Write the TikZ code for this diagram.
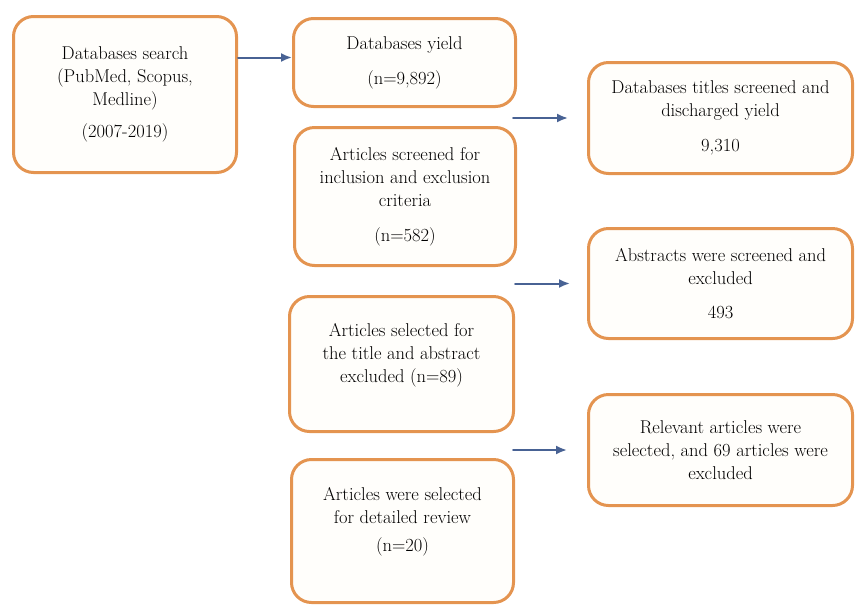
\documentclass[tikz,border=0pt]{standalone}
\usetikzlibrary{arrows.meta,calc}

\definecolor{boxline}{RGB}{228,148,80}
\definecolor{boxfill}{RGB}{255,254,251}
\definecolor{flowblue}{RGB}{72,98,148}

\begin{document}
\begin{tikzpicture}[x=1pt,y=-1pt,>={Latex[length=11pt,width=9pt]},line cap=round,line join=round]
  \tikzset{
    stage/.style={draw=boxline,fill=boxfill,line width=3pt,rounded corners=20pt,
      align=center,inner sep=0pt,font=\fontsize{18.5}{23}\selectfont},
    flow/.style={->,line width=2pt,flowblue}
  }
  \useasboundingbox (0,0) rectangle (856,606);

  % left column: the search itself
  \node[stage,minimum width=223,minimum height=156] (search) at (125,94.5)
    {Databases search\\(PubMed, Scopus,\\Medline)\\[9pt](2007-2019)};

  % middle column: what is kept at each step
  \node[stage,minimum width=222,minimum height=88] (yield) at (404.5,62.5)
    {Databases yield\\[12pt](n=9,892)};
  \node[stage,minimum width=221,minimum height=138] (screened) at (405,196.5)
    {Articles screened for\\inclusion and exclusion\\criteria\\[12pt](n=582)};
  \node[stage,minimum width=224,minimum height=135] (selected) at (401.5,364)
    {Articles selected for\\the title and abstract\\excluded (n=89)\\~};
  \node[stage,minimum width=222,minimum height=143] (review) at (402.5,531)
    {Articles were selected\\for detailed review\\[5pt](n=20)\\~};

  % right column: what is dropped at each step
  \node[stage,minimum width=264,minimum height=111] (titles) at (720.5,118)
    {Databases titles screened and\\discharged yield\\[12pt]9,310};
  \node[stage,minimum width=264,minimum height=110] (abstracts) at (720.5,283.5)
    {Abstracts were screened and\\excluded\\[11pt]493};
  \node[stage,minimum width=264,minimum height=111] (relevant) at (720.5,450)
    {Relevant articles were\\selected, and 69 articles were\\excluded};

  % arrows
  \draw[flow] ([yshift=5]search.east |- yield.west) -- ([yshift=5]yield.west);
  \coordinate (titles in) at ([xshift=-19]titles.west);
  \coordinate (abstracts in) at ([xshift=-17]abstracts.west);
  \coordinate (relevant in) at ([xshift=-20]relevant.west);
  \draw[flow] ([xshift=-4]yield.east |- titles.west) -- (titles in);
  \draw[flow] ([xshift=-2]screened.east |- abstracts.west) -- (abstracts in);
  \draw[flow] ([xshift=-2]selected.east |- relevant.west) -- (relevant in);
\end{tikzpicture}
\end{document}
